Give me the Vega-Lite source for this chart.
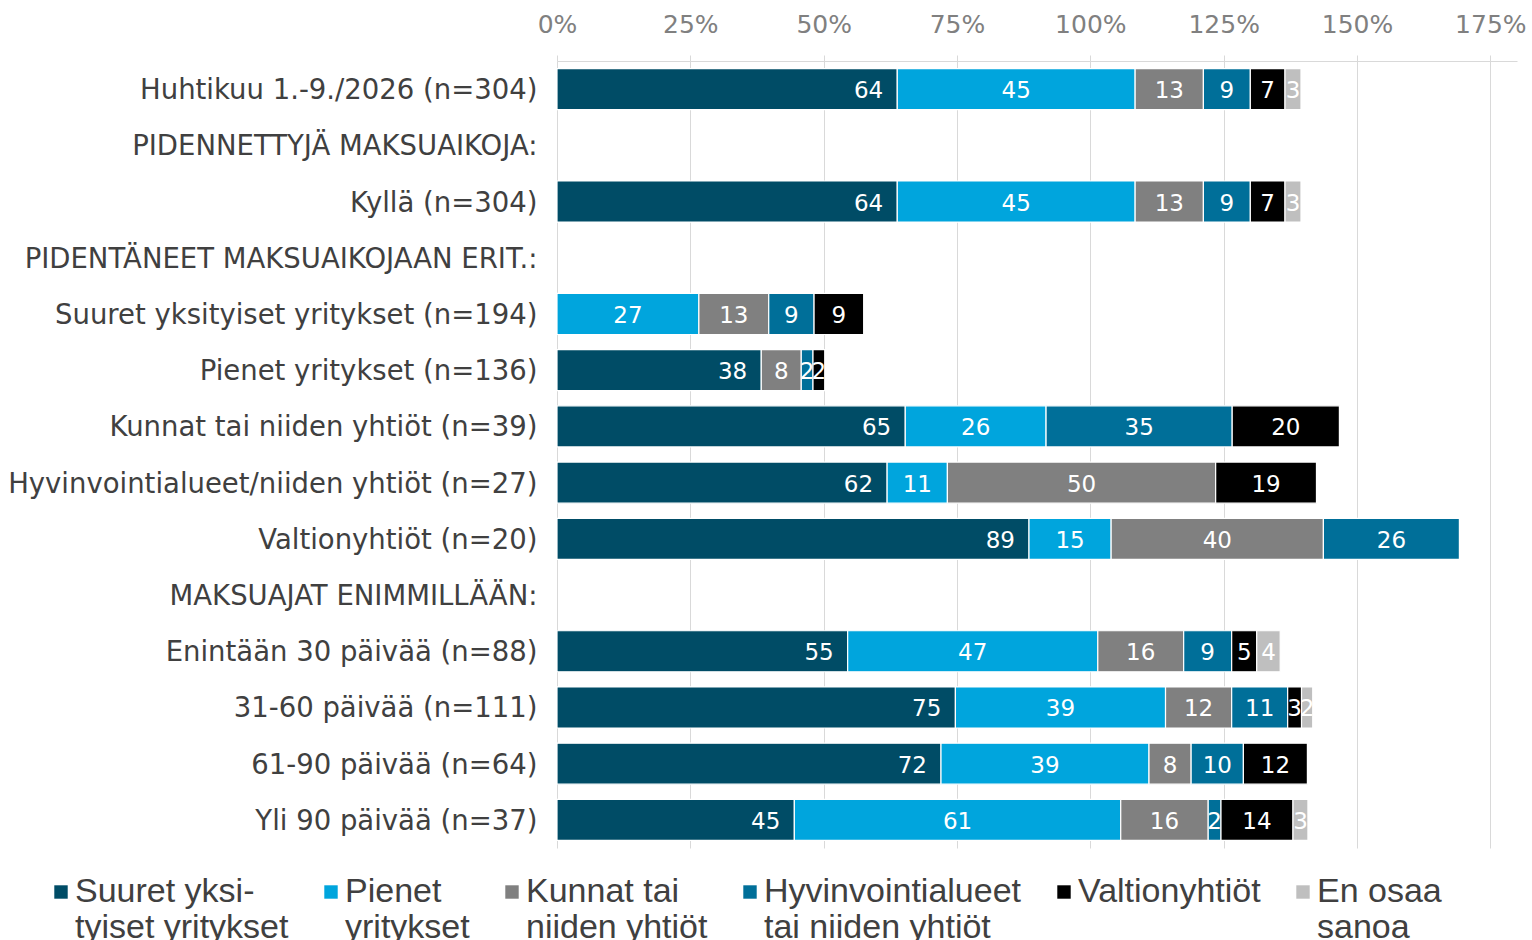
{
  "$schema": "https://vega.github.io/schema/vega-lite/v6.json",
  "width": 960,
  "height": 787,
  "autosize": {"type": "none"},
  "padding": {"left": 557, "top": 61, "right": 15, "bottom": 92},
  "config": {"view": {"stroke": null}, "font": "DejaVu Sans"},
  "data": {"values": [
    {"row": "Huhtikuu 1.-9./2026 (n=304)", "series": "Suuret yksityiset yritykset", "order": 1, "value": 63.8},
    {"row": "Huhtikuu 1.-9./2026 (n=304)", "series": "Pienet yritykset", "order": 2, "value": 44.6},
    {"row": "Huhtikuu 1.-9./2026 (n=304)", "series": "Kunnat tai niiden yhtiöt", "order": 3, "value": 12.8},
    {"row": "Huhtikuu 1.-9./2026 (n=304)", "series": "Hyvinvointialueet tai niiden yhtiöt", "order": 4, "value": 8.8},
    {"row": "Huhtikuu 1.-9./2026 (n=304)", "series": "Valtionyhtiöt", "order": 5, "value": 6.5},
    {"row": "Huhtikuu 1.-9./2026 (n=304)", "series": "En osaa sanoa", "order": 6, "value": 3.0},
    {"row": "Kyllä (n=304)", "series": "Suuret yksityiset yritykset", "order": 1, "value": 63.8},
    {"row": "Kyllä (n=304)", "series": "Pienet yritykset", "order": 2, "value": 44.6},
    {"row": "Kyllä (n=304)", "series": "Kunnat tai niiden yhtiöt", "order": 3, "value": 12.8},
    {"row": "Kyllä (n=304)", "series": "Hyvinvointialueet tai niiden yhtiöt", "order": 4, "value": 8.8},
    {"row": "Kyllä (n=304)", "series": "Valtionyhtiöt", "order": 5, "value": 6.5},
    {"row": "Kyllä (n=304)", "series": "En osaa sanoa", "order": 6, "value": 3.0},
    {"row": "Suuret yksityiset yritykset (n=194)", "series": "Pienet yritykset", "order": 2, "value": 26.6},
    {"row": "Suuret yksityiset yritykset (n=194)", "series": "Kunnat tai niiden yhtiöt", "order": 3, "value": 13.1},
    {"row": "Suuret yksityiset yritykset (n=194)", "series": "Hyvinvointialueet tai niiden yhtiöt", "order": 4, "value": 8.5},
    {"row": "Suuret yksityiset yritykset (n=194)", "series": "Valtionyhtiöt", "order": 5, "value": 9.3},
    {"row": "Pienet yritykset (n=136)", "series": "Suuret yksityiset yritykset", "order": 1, "value": 38.3},
    {"row": "Pienet yritykset (n=136)", "series": "Kunnat tai niiden yhtiöt", "order": 3, "value": 7.5},
    {"row": "Pienet yritykset (n=136)", "series": "Hyvinvointialueet tai niiden yhtiöt", "order": 4, "value": 2.2},
    {"row": "Pienet yritykset (n=136)", "series": "Valtionyhtiöt", "order": 5, "value": 2.2},
    {"row": "Kunnat tai niiden yhtiöt (n=39)", "series": "Suuret yksityiset yritykset", "order": 1, "value": 65.3},
    {"row": "Kunnat tai niiden yhtiöt (n=39)", "series": "Pienet yritykset", "order": 2, "value": 26.4},
    {"row": "Kunnat tai niiden yhtiöt (n=39)", "series": "Hyvinvointialueet tai niiden yhtiöt", "order": 4, "value": 34.9},
    {"row": "Kunnat tai niiden yhtiöt (n=39)", "series": "Valtionyhtiöt", "order": 5, "value": 20.1},
    {"row": "Hyvinvointialueet/niiden yhtiöt (n=27)", "series": "Suuret yksityiset yritykset", "order": 1, "value": 61.9},
    {"row": "Hyvinvointialueet/niiden yhtiöt (n=27)", "series": "Pienet yritykset", "order": 2, "value": 11.3},
    {"row": "Hyvinvointialueet/niiden yhtiöt (n=27)", "series": "Kunnat tai niiden yhtiöt", "order": 3, "value": 50.3},
    {"row": "Hyvinvointialueet/niiden yhtiöt (n=27)", "series": "Valtionyhtiöt", "order": 5, "value": 18.9},
    {"row": "Valtionyhtiöt (n=20)", "series": "Suuret yksityiset yritykset", "order": 1, "value": 88.5},
    {"row": "Valtionyhtiöt (n=20)", "series": "Pienet yritykset", "order": 2, "value": 15.4},
    {"row": "Valtionyhtiöt (n=20)", "series": "Kunnat tai niiden yhtiöt", "order": 3, "value": 39.8},
    {"row": "Valtionyhtiöt (n=20)", "series": "Hyvinvointialueet tai niiden yhtiöt", "order": 4, "value": 25.5},
    {"row": "Enintään 30 päivää (n=88)", "series": "Suuret yksityiset yritykset", "order": 1, "value": 54.5},
    {"row": "Enintään 30 päivää (n=88)", "series": "Pienet yritykset", "order": 2, "value": 46.9},
    {"row": "Enintään 30 päivää (n=88)", "series": "Kunnat tai niiden yhtiöt", "order": 3, "value": 16.1},
    {"row": "Enintään 30 päivää (n=88)", "series": "Hyvinvointialueet tai niiden yhtiöt", "order": 4, "value": 9.0},
    {"row": "Enintään 30 päivää (n=88)", "series": "Valtionyhtiöt", "order": 5, "value": 4.7},
    {"row": "Enintään 30 päivää (n=88)", "series": "En osaa sanoa", "order": 6, "value": 4.4},
    {"row": "31-60 päivää (n=111)", "series": "Suuret yksityiset yritykset", "order": 1, "value": 74.7},
    {"row": "31-60 päivää (n=111)", "series": "Pienet yritykset", "order": 2, "value": 39.4},
    {"row": "31-60 päivää (n=111)", "series": "Kunnat tai niiden yhtiöt", "order": 3, "value": 12.4},
    {"row": "31-60 päivää (n=111)", "series": "Hyvinvointialueet tai niiden yhtiöt", "order": 4, "value": 10.5},
    {"row": "31-60 päivää (n=111)", "series": "Valtionyhtiöt", "order": 5, "value": 2.6},
    {"row": "31-60 päivää (n=111)", "series": "En osaa sanoa", "order": 6, "value": 2.1},
    {"row": "61-90 päivää (n=64)", "series": "Suuret yksityiset yritykset", "order": 1, "value": 72.0},
    {"row": "61-90 päivää (n=64)", "series": "Pienet yritykset", "order": 2, "value": 39.0},
    {"row": "61-90 päivää (n=64)", "series": "Kunnat tai niiden yhtiöt", "order": 3, "value": 7.9},
    {"row": "61-90 päivää (n=64)", "series": "Hyvinvointialueet tai niiden yhtiöt", "order": 4, "value": 9.8},
    {"row": "61-90 päivää (n=64)", "series": "Valtionyhtiöt", "order": 5, "value": 12.0},
    {"row": "Yli 90 päivää (n=37)", "series": "Suuret yksityiset yritykset", "order": 1, "value": 44.5},
    {"row": "Yli 90 päivää (n=37)", "series": "Pienet yritykset", "order": 2, "value": 61.2},
    {"row": "Yli 90 päivää (n=37)", "series": "Kunnat tai niiden yhtiöt", "order": 3, "value": 16.4},
    {"row": "Yli 90 päivää (n=37)", "series": "Hyvinvointialueet tai niiden yhtiöt", "order": 4, "value": 2.4},
    {"row": "Yli 90 päivää (n=37)", "series": "Valtionyhtiöt", "order": 5, "value": 13.5},
    {"row": "Yli 90 päivää (n=37)", "series": "En osaa sanoa", "order": 6, "value": 2.8}
  ]},
  "transform": [
    {"stack": "value", "groupby": ["row"], "sort": [{"field": "order", "order": "ascending"}], "as": ["v0", "v1"]},
    {"calculate": "(datum.v0 + datum.v1) / 2", "as": "mid"}
  ],
  "encoding": {
    "y": {
      "field": "row",
      "type": "nominal",
      "title": null,
      "scale": {
        "domain": [
          "Huhtikuu 1.-9./2026 (n=304)",
          "PIDENNETTYJÄ MAKSUAIKOJA:",
          "Kyllä (n=304)",
          "PIDENTÄNEET MAKSUAIKOJAAN ERIT.:",
          "Suuret yksityiset yritykset (n=194)",
          "Pienet yritykset (n=136)",
          "Kunnat tai niiden yhtiöt (n=39)",
          "Hyvinvointialueet/niiden yhtiöt (n=27)",
          "Valtionyhtiöt (n=20)",
          "MAKSUAJAT ENIMMILLÄÄN:",
          "Enintään 30 päivää (n=88)",
          "31-60 päivää (n=111)",
          "61-90 päivää (n=64)",
          "Yli 90 päivää (n=37)"
        ],
        "paddingInner": 0.27,
        "paddingOuter": 0.135
      },
      "axis": {
        "ticks": false,
        "domain": false,
        "labelFont": "DejaVu Sans",
        "labelFontSize": 27.5,
        "labelColor": "#404040",
        "labelPadding": 20,
        "labelOffset": 2,
        "labelLimit": 700
      }
    }
  },
  "layer": [
    {
      "mark": {"type": "bar", "stroke": "white", "strokeWidth": 1.2},
      "encoding": {
        "x": {
          "field": "v0",
          "type": "quantitative",
          "title": null,
          "scale": {"domain": [0, 180], "nice": false, "zero": true},
          "axis": {
            "orient": "top",
            "values": [0, 25, 50, 75, 100, 125, 150, 175],
            "labelExpr": "datum.value + '%'",
            "labelFlush": false,
            "labelFont": "DejaVu Sans",
            "labelFontSize": 25,
            "labelColor": "#808080",
            "labelPadding": 18,
            "tickSize": 6,
            "tickColor": "#D9D9D9",
            "domainColor": "#D9D9D9",
            "gridColor": "#D9D9D9",
            "grid": true
          }
        },
        "x2": {"field": "v1"},
        "color": {
          "field": "series",
          "type": "nominal",
          "scale": {
            "domain": ["Suuret yksityiset yritykset", "Pienet yritykset", "Kunnat tai niiden yhtiöt", "Hyvinvointialueet tai niiden yhtiöt", "Valtionyhtiöt", "En osaa sanoa"],
            "range": ["#004C66", "#00A5DD", "#808080", "#006F99", "#000000", "#BFBFBF"]
          },
          "legend": {
            "title": null,
            "orient": "none",
            "direction": "horizontal",
            "legendX": -513,
            "legendY": 814,
            "padding": 0,
            "symbolType": "square",
            "symbolSize": 180,
            "symbolStrokeWidth": 0,
            "labelFont": "Liberation Sans",
            "labelFontSize": 34,
            "labelColor": "#404040",
            "labelBaseline": "middle",
            "labelOffset": -3,
            "labelLimit": 500,
            "columnPadding": 25,
            "labelExpr": "datum.label == 'Suuret yksityiset yritykset' ? ['Suuret yksi-', 'tyiset yritykset'] : datum.label == 'Pienet yritykset' ? ['Pienet', 'yritykset'] : datum.label == 'Kunnat tai niiden yhtiöt' ? ['Kunnat tai', 'niiden yhtiöt'] : datum.label == 'Hyvinvointialueet tai niiden yhtiöt' ? ['Hyvinvointialueet', 'tai niiden yhtiöt'] : datum.label == 'En osaa sanoa' ? ['En osaa', 'sanoa'] : [datum.label, ' ']"
          }
        }
      }
    },
    {
      "transform": [{"filter": "datum.order > 1"}],
      "mark": {"type": "text", "color": "white", "fontSize": 23, "font": "DejaVu Sans", "baseline": "middle", "dy": 2},
      "encoding": {
        "x": {"field": "mid", "type": "quantitative"},
        "text": {"field": "value", "type": "quantitative", "format": ".0f"}
      }
    },
    {
      "transform": [{"filter": "datum.order == 1"}],
      "mark": {"type": "text", "color": "white", "fontSize": 23, "font": "DejaVu Sans", "baseline": "middle", "align": "right", "dx": -14, "dy": 2},
      "encoding": {
        "x": {"field": "v1", "type": "quantitative"},
        "text": {"field": "value", "type": "quantitative", "format": ".0f"}
      }
    }
  ]
}
